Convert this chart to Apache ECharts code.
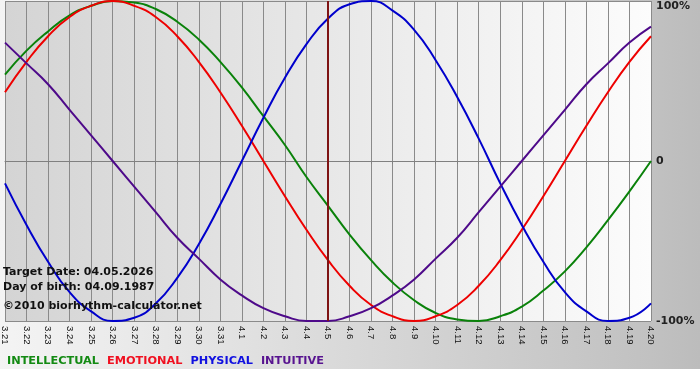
<!DOCTYPE html>
<html>
<head>
<meta charset="utf-8">
<script src="https://cdn.jsdelivr.net/npm/echarts@6/dist/echarts.min.js"></script>
<style>html,body{margin:0;padding:0;background:#fff}#c{width:700px;height:380px}</style>
</head>
<body>
<div id="c"></div>
<script>
const dates = ['3.21','3.22','3.23','3.24','3.25','3.26','3.27','3.28','3.29','3.30','3.31','4.1','4.2','4.3','4.4','4.5','4.6','4.7','4.8','4.9','4.10','4.11','4.12','4.13','4.14','4.15','4.16','4.17','4.18','4.19','4.20'];
const intellectual = [54,69,81,91,97,100,99,95,87,76,62,46,28,10,-10,-28,-46,-62,-76,-87,-95,-99,-100,-97,-91,-81,-69,-54,-37,-19,0];
const emotional = [43,62,78,90,97,100,97,90,78,62,43,22,0,-22,-43,-62,-78,-90,-97,-100,-97,-90,-78,-62,-43,-22,0,22,43,62,78];
const physical = [-14,-40,-63,-82,-94,-100,-98,-89,-73,-52,-27,0,27,52,73,89,98,100,94,82,63,40,14,-14,-40,-63,-82,-94,-100,-98,-89];
const intuitive = [74,61,48,32,16,0,-16,-32,-48,-61,-74,-84,-92,-97,-100,-100,-97,-92,-84,-74,-61,-48,-32,-16,0,16,32,48,61,74,84];
const yTicks = [-100, 0, 100];
const targetDay = '4.5';
const infoLines = ['Target Date: 04.05.2026', 'Day of birth: 04.09.1987', '\u00a92010 biorhythm-calculator.net'];

const colors = {INTELLECTUAL:'#0a820a', EMOTIONAL:'#ee0000', PHYSICAL:'#0000cc', INTUITIVE:'#4e0a8a'};
const legendColors = {INTELLECTUAL:'#138a13', EMOTIONAL:'#f01020', PHYSICAL:'#1010e0', INTUITIVE:'#581490'};

const chart = echarts.init(document.getElementById('c'), null, {renderer:'canvas'});
function line(name, data, extra) {
  return Object.assign({
    name, type:'line', data, smooth:true, showSymbol:false, symbol:'none',
    lineStyle:{color:colors[name], width:2}, itemStyle:{color:colors[name]}, silent:true
  }, extra || {});
}
const option = {
  animation:false,
  backgroundColor:{type:'linear', x:0, y:0, x2:1, y2:0, colorStops:[{offset:0, color:'#f4f4f4'},{offset:0.93, color:'#c1c1c1'},{offset:1, color:'#bcbcbc'}]},
  grid:{left:1, right:49, top:1, bottom:59, show:true, borderWidth:0,
    backgroundColor:{type:'linear', x:0, y:0, x2:1, y2:0, colorStops:[{offset:0, color:'#d4d4d4'},{offset:1, color:'#fcfcfc'}]}},
  legend:{left:-3, top:351, icon:'none', itemWidth:0, itemHeight:0, itemGap:3, selectedMode:false,
    textStyle:{fontFamily:'DejaVu Sans', fontWeight:'bold', fontSize:11.3},
    data:Object.keys(legendColors).map(n => ({name:n, textStyle:{color:legendColors[n]}}))},
  xAxis:{type:'category', data:dates, boundaryGap:false,
    axisLine:{lineStyle:{color:'#808080', width:1}},
    axisTick:{show:true, length:3, interval:0, lineStyle:{color:'#808080'}},
    axisLabel:{interval:0, rotate:-90, margin:5, fontSize:9.5, fontFamily:'Liberation Sans', color:'#111'},
    splitLine:{show:true, interval:0, lineStyle:{color:'#8a8a8a', width:1}}},
  yAxis:{type:'value', position:'right', min:yTicks[0], max:yTicks[2], interval:100,
    axisLine:{show:false}, axisTick:{show:false},
    axisLabel:{margin:5, fontSize:11, fontWeight:'bold', fontFamily:'DejaVu Sans', color:'#222',
      verticalAlignMaxLabel:'top',
      formatter: v => v === 0 ? '0' : v + '%'},
    splitLine:{show:true, lineStyle:{color:'#8a8a8a', width:1}}},
  series:[
    line('INTELLECTUAL', intellectual, {markLine:{silent:true, symbol:'none', label:{show:false},
      lineStyle:{color:'#7e1414', width:2, type:'solid'}, data:[{xAxis:targetDay}]}}),
    line('EMOTIONAL', emotional),
    line('PHYSICAL', physical),
    line('INTUITIVE', intuitive)
  ],
  graphic:[
    {type:'rect', left:0, top:369, shape:{width:700, height:11}, style:{fill:'#ffffff'}, silent:true},
    ...infoLines.map((t, i) => ({type:'text', x:3, y:[272.5, 287, 306.5][i], silent:true, z:100,
      style:{text:t, fill:'#111', font:'bold 11px "DejaVu Sans"', verticalAlign:'middle', align:'left'}}))
  ]
};
chart.setOption(option);
</script>
</body>
</html>
